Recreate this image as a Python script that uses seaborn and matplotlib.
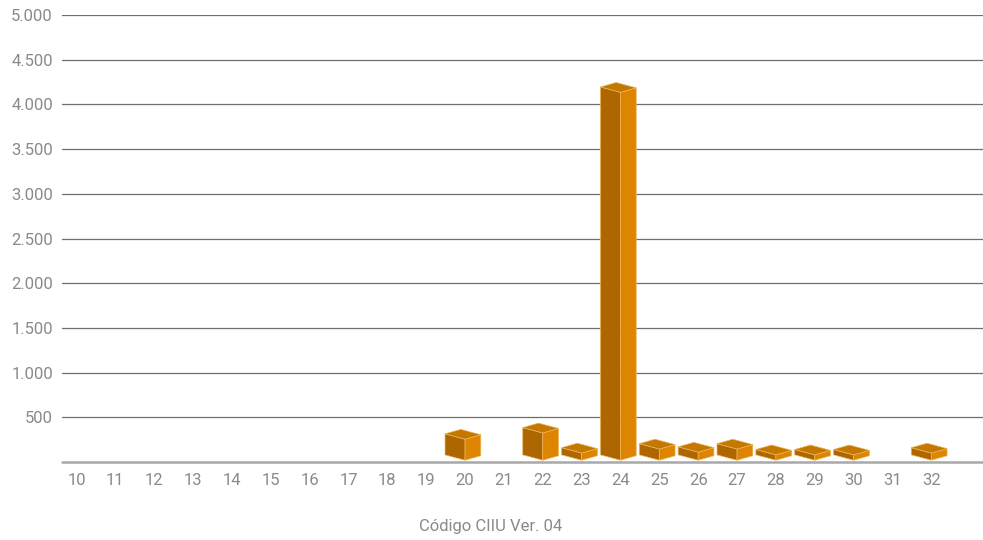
import matplotlib
matplotlib.use("Agg")
import matplotlib.pyplot as plt
import pandas as pd
import seaborn as sns
from matplotlib.patches import Polygon
from matplotlib.ticker import FuncFormatter

# Códigos CIIU (Ver. 04) y valor de cada columna
codigos = [str(c) for c in range(10, 33)]
valores = [0, 0, 0, 0, 0, 0, 0, 0, 0, 0,      # 10-19
           255, 0, 325, 100, 4135, 145, 110,   # 20-26
           145, 80, 80, 80, 0, 100]            # 27-32
marcas_y = [500, 1000, 1500, 2000, 2500, 3000, 3500, 4000, 4500, 5000]
titulo_x = "Código CIIU Ver. 04"

# Colores de las caras de cada prisma
cara_izq = "#AD6600"
cara_der = "#DD8500"
cara_sup = "#C47800"
borde = "#EDB35A"
gris_texto = "#8A8A8A"

df = pd.DataFrame({"codigo": codigos, "valor": valores})

sns.set_theme(style="white")
plt.rcParams["font.family"] = ["Roboto", "DejaVu Sans"]

fig = plt.figure(figsize=(9.83, 5.40), dpi=100)
ax = fig.add_axes([62 / 983, 78 / 540, 921 / 983, 447 / 540])

sns.barplot(data=df, x="codigo", y="valor", order=codigos, width=0.92,
            color=cara_izq, ax=ax, zorder=3)

# Perspectiva: desplazamiento vertical (en unidades de datos) de las aristas
base = 20      # arista frontal apenas separada del piso
sube_izq = 60  # la arista izquierda queda más arriba que la frontal
sube_der = 50  # la arista derecha también

for barra in ax.patches:
    h = barra.get_height()
    barra.set_visible(False)
    if h <= 0:
        continue
    w = barra.get_width()
    xc = barra.get_x() + w / 2
    xl = xc - 0.56 * w
    xr = xc + 0.44 * w
    pico_x = xl + (xr - xc)
    caras = [
        ([(xl, base + sube_izq), (xc, base), (xc, h), (xl, h + sube_izq)], cara_izq),
        ([(xc, base), (xr, base + sube_der), (xr, h + sube_der), (xc, h)], cara_der),
        ([(xl, h + sube_izq), (xc, h), (xr, h + sube_der),
          (pico_x, h + sube_izq + sube_der)], cara_sup),
    ]
    for pts, col in caras:
        ax.add_patch(Polygon(pts, closed=True, facecolor=col, edgecolor=borde,
                             linewidth=0.5, zorder=4, joinstyle="miter"))

ax.set_xlim(-0.373, 23.33)
ax.set_ylim(0, 5000)
ax.set_yticks(marcas_y)
ax.yaxis.set_major_formatter(FuncFormatter(lambda v, _: f"{int(v):,}".replace(",", ".")))
ax.yaxis.grid(True, color="#6E6E6E", linewidth=0.9, zorder=1)
ax.axhline(0, color="#A8A8A8", linewidth=1.8, zorder=2, clip_on=False)

for lado in ax.spines.values():
    lado.set_visible(False)

ax.tick_params(axis="y", length=0, pad=6.5, labelsize=12, labelcolor=gris_texto)
ax.tick_params(axis="x", length=0, pad=8, labelsize=12, labelcolor=gris_texto)

ax.set_xlabel("")
ax.set_ylabel("")
fig.text(491 / 983, 1 - 527 / 540, titulo_x, ha="center", va="center",
         fontsize=12, color=gris_texto)

fig.savefig("out.png", dpi=100)
